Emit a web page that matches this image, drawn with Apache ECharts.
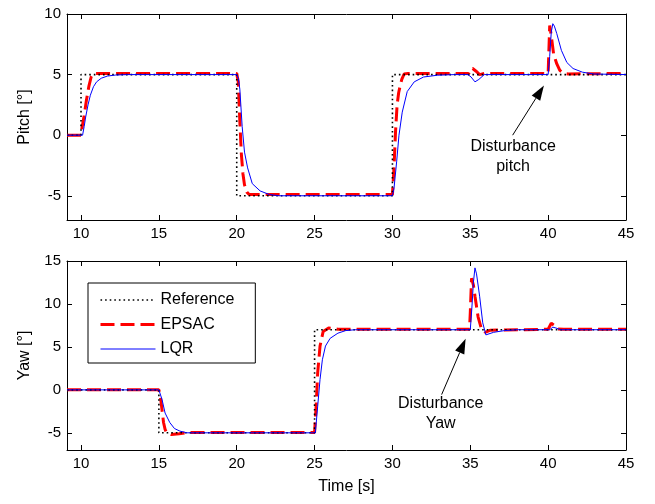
<!DOCTYPE html>
<html>
<head>
<meta charset="utf-8">
<script src="https://cdn.jsdelivr.net/npm/echarts@6/dist/echarts.min.js"></script>
<style>
html,body{margin:0;padding:0;background:#fff;}
#c{width:655px;height:504px;}
</style>
</head>
<body>
<div id="c"></div>
<script>
// ---------- data ----------
var xTicks = [10, 15, 20, 25, 30, 35, 40, 45];
var pitchTicks = [-5, 0, 5, 10];
var yawTicks = [-5, 0, 5, 10, 15];
var seriesNames = ['Reference', 'EPSAC', 'LQR'];

// Pitch
var pitchRefT = [9.1, 10, 10, 20, 20, 30, 30, 45];
var pitchRefV = [0, 0, 5, 5, -5, -5, 5, 5];
var pitchEpsacT = [9.1, 10.0, 10.05, 10.2, 10.35, 10.5, 10.65, 10.8, 11.0, 20.0, 20.1, 20.2, 20.3, 20.4, 20.5, 20.65, 20.8, 21.0, 30.0, 30.1, 30.2, 30.3, 30.4, 30.5, 30.6, 30.75, 31.0, 34.9, 35.0, 35.15, 35.35, 35.6, 35.9, 40.0, 40.1, 40.2, 40.35, 40.55, 40.75, 41.0, 41.3, 45];
var pitchEpsacV = [0, 0, 0.5, 1.6, 2.9, 4.0, 4.8, 5.1, 5.1, 5.1, 4.4, 1.1, -1.6, -3.2, -4.1, -4.7, -4.9, -4.9, -4.9, -2.7, 0.3, 2.5, 3.5, 4.1, 4.6, 5.05, 5.1, 5.1, 5.45, 5.5, 5.3, 5.0, 5.1, 5.1, 9.05, 8.2, 6.7, 5.9, 5.35, 5.1, 5.05, 5.1];
var pitchLqrT = [9.1, 10.1, 10.2, 10.3, 10.45, 10.6, 10.8, 11.0, 11.3, 11.7, 12.2, 13.0, 20.0, 20.1, 20.2, 20.35, 20.5, 20.7, 21.0, 21.5, 22.1, 22.7, 30.0, 30.1, 30.27, 30.42, 30.63, 30.95, 31.4, 32.0, 32.9, 34.0, 34.85, 35.05, 35.3, 35.55, 35.9, 40.0, 40.1, 40.2, 40.3, 40.4, 40.55, 40.85, 41.2, 41.6, 42.2, 42.9, 45];
var pitchLqrV = [0, 0, 0.7, 1.5, 2.5, 3.3, 4.0, 4.4, 4.7, 4.88, 4.96, 5, 5, 4.7, 3.8, 0.7, -1.4, -2.7, -4.0, -4.6, -4.9, -5, -5, -4.4, -2.2, 0, 1.9, 3.6, 4.4, 4.8, 4.95, 5, 5, 4.8, 4.4, 4.6, 5, 5, 6.5, 8.5, 9.2, 9.0, 8.4, 7.0, 6.0, 5.5, 5.2, 5.05, 5];

// Yaw
var yawRefT = [9.1, 15, 15, 25, 25, 45];
var yawRefV = [0, 0, -5, -5, 7, 7];
var yawEpsacT = [9.1, 15.0, 15.1, 15.2, 15.3, 15.4, 15.5, 15.8, 16.3, 17.0, 25.0, 25.1, 25.2, 25.35, 25.55, 25.9, 26.5, 34.95, 35.0, 35.08, 35.2, 35.3, 35.5, 35.7, 35.95, 36.3, 40.0, 40.2, 40.4, 40.6, 41.0, 45];
var yawEpsacV = [0, 0, -0.8, -2.3, -3.8, -4.6, -5.0, -5.2, -5.1, -4.95, -4.95, -1.9, 2.0, 5.1, 6.8, 7.2, 7.05, 7.05, 9.0, 13.0, 12.2, 10.9, 8.5, 7.2, 6.7, 6.95, 7.05, 7.75, 7.5, 7.1, 7.05, 7.05];
var yawLqrT = [9.1, 15.0, 15.2, 15.4, 15.7, 16.0, 16.35, 16.8, 25.05, 25.2, 25.35, 25.5, 25.7, 26.0, 26.5, 27.0, 27.6, 35.0, 35.1, 35.2, 35.3, 35.4, 35.6, 35.8, 36.0, 36.5, 37.2, 38.0, 40.1, 40.3, 40.5, 40.8, 45];
var yawLqrV = [0, 0, -1.1, -2.7, -3.8, -4.5, -4.8, -5.0, -5, -1.9, 1.2, 3.5, 5.1, 6.0, 6.6, 6.9, 7.0, 7.0, 9.5, 12.5, 14.2, 13.5, 10.9, 7.8, 6.4, 6.7, 6.9, 7.0, 7.0, 7.3, 7.2, 7.0, 7.0];

// annotations (data coordinates)
var annPitch = {text: ['Disturbance', 'pitch'], textAt: [37.75, -1.8], tail: [37.72, 0.0], tip: [39.73, 4.1]};
var annYaw = {text: ['Disturbance', 'Yaw'], textAt: [33.1, -2.75], tail: [33.16, -0.55], tip: [34.7, 5.95]};

function pairs(t, v) { return t.map(function (x, i) { return [x, v[i]]; }); }

var FONT = 'Liberation Sans, Arial, sans-serif';
var chart = echarts.init(document.getElementById('c'), null, {renderer: 'canvas'});

var grids = [
  {left: 67, top: 14, width: 559, height: 206},
  {left: 67, top: 261, width: 559, height: 189}
];

function xAxes(gi, withName) {
  var base = {
    type: 'value', gridIndex: gi, min: 9.1, max: 45,
    splitLine: {show: false},
    axisLine: {show: true, onZero: false, lineStyle: {color: '#000', width: 1}},
    axisTick: {show: true, inside: true, length: 5, customValues: xTicks, lineStyle: {color: '#000'}}
  };
  var bottom = Object.assign({}, base, {
    position: 'bottom',
    axisLabel: {show: true, customValues: xTicks, color: '#000', fontFamily: FONT, fontSize: 15, margin: 6}
  });
  if (withName) {
    bottom.name = 'Time [s]';
    bottom.nameLocation = 'middle';
    bottom.nameGap = 29;
    bottom.nameTextStyle = {color: '#000', fontFamily: FONT, fontSize: 16};
  }
  var top = Object.assign({}, base, {position: 'top', axisLabel: {show: false}});
  return [bottom, top];
}
function yAxes(gi, mn, mx, ticks, name) {
  var base = {
    type: 'value', gridIndex: gi, min: mn, max: mx,
    splitLine: {show: false},
    axisLine: {show: true, onZero: false, lineStyle: {color: '#000', width: 1}},
    axisTick: {show: true, inside: true, length: 5, customValues: ticks, lineStyle: {color: '#000'}}
  };
  var left = Object.assign({}, base, {
    position: 'left',
    name: name, nameLocation: 'middle', nameGap: 34,
    nameTextStyle: {color: '#000', fontFamily: FONT, fontSize: 16},
    axisLabel: {show: true, customValues: ticks, color: '#000', fontFamily: FONT, fontSize: 15, margin: 6}
  });
  var right = Object.assign({}, base, {position: 'right', axisLabel: {show: false}});
  return [left, right];
}

var xA = xAxes(0, false).concat(xAxes(1, true));
var yA = yAxes(0, -7, 10, pitchTicks, 'Pitch [°]').concat(yAxes(1, -7, 15, yawTicks, 'Yaw [°]'));

var styles = {
  Reference: {color: '#000', width: 1.6, type: [1.6, 3]},
  EPSAC: {color: '#ff0000', width: 3, type: [14, 6]},
  LQR: {color: '#0000ff', width: 1, type: 'solid'}
};
function mk(name, xi, yi, t, v, z) {
  return {
    name: name, type: 'line', xAxisIndex: xi, yAxisIndex: yi,
    data: pairs(t, v), showSymbol: false, symbol: 'none', animation: false, z: z,
    lineStyle: styles[name], itemStyle: {color: styles[name].color}
  };
}

var series = [
  mk('Reference', 0, 0, pitchRefT, pitchRefV, 3),
  mk('EPSAC', 0, 0, pitchEpsacT, pitchEpsacV, 2),
  mk('LQR', 0, 0, pitchLqrT, pitchLqrV, 4),
  mk('Reference', 2, 2, yawRefT, yawRefV, 3),
  mk('EPSAC', 2, 2, yawEpsacT, yawEpsacV, 2),
  mk('LQR', 2, 2, yawLqrT, yawLqrV, 4)
];

chart.setOption({
  animation: false,
  backgroundColor: '#fff',
  grid: grids,
  xAxis: xA,
  yAxis: yA,
  legend: {
    data: seriesNames,
    orient: 'vertical',
    left: 88, top: 283,
    padding: [9, 21, 6, 11],
    itemWidth: 55, itemHeight: 14, itemGap: 8.5,
    borderColor: '#000', borderWidth: 1, backgroundColor: '#fff',
    itemStyle: {opacity: 0},
    lineStyle: {width: 'inherit', type: 'inherit', color: 'inherit'},
    textStyle: {color: '#000', fontFamily: FONT, fontSize: 16, lineHeight: 16},
    selectedMode: false
  },
  series: series
});

function arrowGraphics(gi, a) {
  var g = [];
  var tc = chart.convertToPixel({gridIndex: gi}, a.textAt);
  g.push({type: 'text', x: tc[0], y: tc[1], style: {text: a.text.join('\n'), fill: '#000', font: '16px ' + FONT, align: 'center', verticalAlign: 'middle', lineHeight: 20}});
  var p0 = chart.convertToPixel({gridIndex: gi}, a.tail);
  var p1 = chart.convertToPixel({gridIndex: gi}, a.tip);
  var dx = p1[0] - p0[0], dy = p1[1] - p0[1];
  var L = Math.sqrt(dx * dx + dy * dy), ux = dx / L, uy = dy / L;
  var hl = 15, hw = 5;
  var bx = p1[0] - ux * hl, by = p1[1] - uy * hl;
  g.push({type: 'line', shape: {x1: p0[0], y1: p0[1], x2: bx, y2: by}, style: {stroke: '#000', lineWidth: 1}});
  g.push({type: 'polygon', shape: {points: [[p1[0], p1[1]], [bx - uy * hw, by + ux * hw], [bx + uy * hw, by - ux * hw]]}, style: {fill: '#000'}});
  return g;
}
chart.setOption({graphic: arrowGraphics(0, annPitch).concat(arrowGraphics(1, annYaw))});
</script>
</body>
</html>
